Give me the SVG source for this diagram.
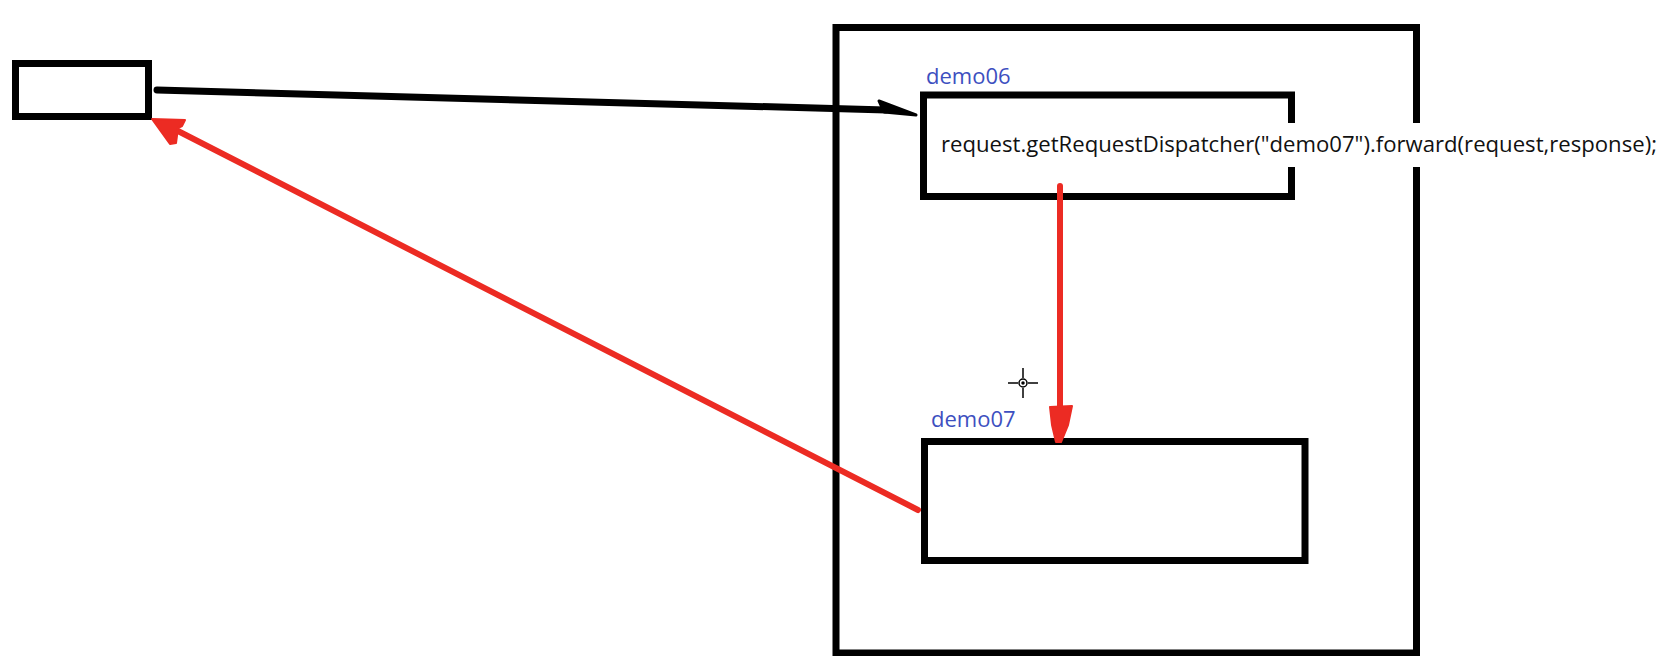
<svg xmlns="http://www.w3.org/2000/svg" width="1667" height="656" viewBox="0 0 1667 656">
  <style>
    .box { fill: none; stroke: #000; stroke-width: 7; }
    .label { font-family: "Open Sans", "Liberation Sans", sans-serif; font-size: 22px; fill: #3d4fc0; }
    .code { font-family: "Open Sans", "Liberation Sans", sans-serif; font-size: 22px; fill: #111; }
    .black-line { stroke: #000; stroke-width: 7; stroke-linecap: round; fill: none; }
    .red-line { stroke: #ec2b23; stroke-width: 6; stroke-linecap: round; fill: none; }
    .red-head { fill: #ec2b23; stroke: #ec2b23; stroke-width: 2; stroke-linejoin: round; }
    .black-head { fill: #000; stroke: #000; stroke-width: 3; stroke-linejoin: round; }
  </style>
  <rect width="1667" height="656" fill="#fff"/>

  <!-- client -->
  <g id="client">
    <rect class="box" x="15.5" y="63.5" width="133" height="53"/>
  </g>

  <!-- server container -->
  <g id="server">
    <rect class="box" x="836" y="27.5" width="580.5" height="625.5"/>
  </g>

  <!-- demo06 servlet -->
  <g id="demo06">
    <rect class="box" x="923.5" y="95" width="368" height="101.5"/>
    <text class="label" x="926" y="84">demo06</text>
  </g>

  <!-- demo07 servlet -->
  <g id="demo07">
    <rect class="box" x="924.5" y="441.5" width="380.5" height="119"/>
    <text class="label" x="931" y="427">demo07</text>
  </g>

  <!-- forward call, drawn over the box edges -->
  <g id="forward-call">
    <rect x="935" y="123" width="728" height="44" fill="#fff"/>
    <text class="code" x="941" y="152" textLength="716" lengthAdjust="spacingAndGlyphs">request.getRequestDispatcher("demo07").forward(request,response);</text>
  </g>

  <!-- connectors -->
  <g id="connectors">
    <!-- request: client to demo06 -->
    <line class="black-line" x1="157" y1="90" x2="886" y2="110"/>
    <polygon class="black-head" points="879,101 884,112 916,115"/>
    <!-- forward: demo06 to demo07 -->
    <line class="red-line" x1="1060" y1="186" x2="1060" y2="412"/>
    <polygon class="red-head" points="1050,407 1072,406 1068,425 1061,442 1056,442 1052,425"/>
    <!-- response: demo07 back to client -->
    <line class="red-line" x1="918" y1="510" x2="176" y2="130"/>
    <polygon class="red-head" points="152,119 185,120 182,126 178,128 176,143 170,144"/>
  </g>

  <!-- pointer crosshair -->
  <g id="pointer" stroke="#000" stroke-width="1.5" fill="none">
    <line x1="1008" y1="383" x2="1018" y2="383"/>
    <line x1="1028" y1="383" x2="1038" y2="383"/>
    <line x1="1023" y1="368" x2="1023" y2="378"/>
    <line x1="1023" y1="388" x2="1023" y2="398"/>
    <circle cx="1023" cy="383" r="4"/>
    <circle cx="1023" cy="383" r="1" fill="#000"/>
  </g>
</svg>
